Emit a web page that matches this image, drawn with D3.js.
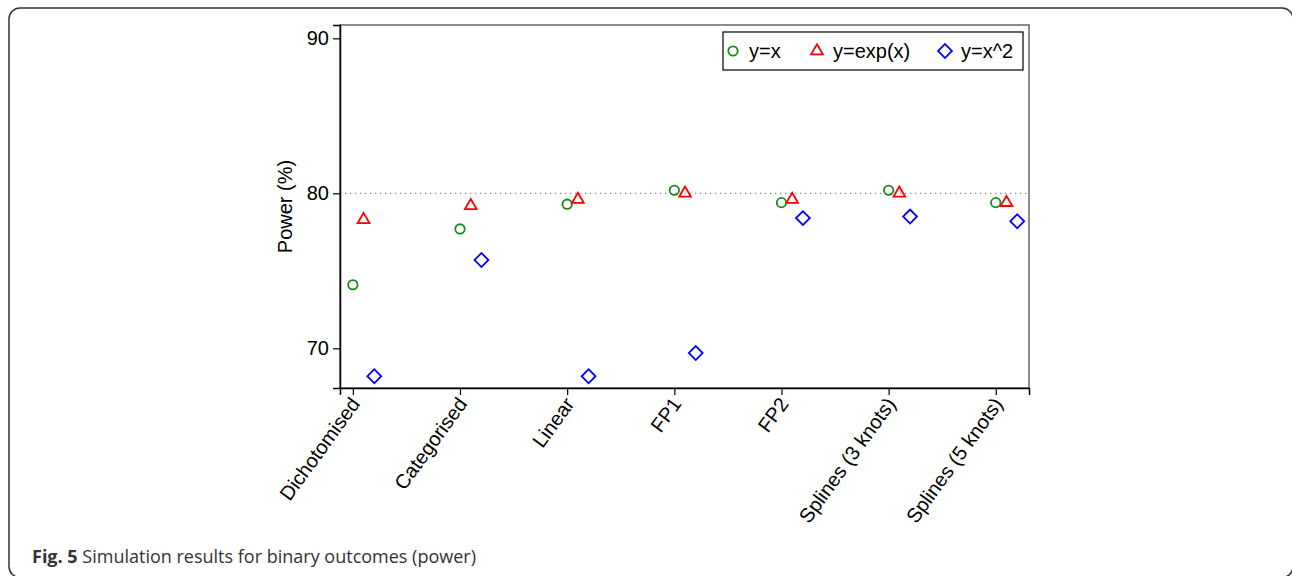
<!DOCTYPE html>
<html>
<head>
<meta charset="utf-8">
<script src="https://cdn.jsdelivr.net/npm/d3@7"></script>
<style>
  body { margin: 0; background: #fff; }
  svg { display: block; }
  .tick-label { font-family: "Liberation Sans", Arial, sans-serif; font-size: 20px; fill: #000; }
  .caption { font-family: "Open Sans", sans-serif; font-size: 18px; fill: #333; }
</style>
</head>
<body>
<svg id="chart" width="1292" height="576"></svg>
<script>
// Methods on the x axis
const methods = ['Dichotomised', 'Categorised', 'Linear', 'FP1', 'FP2', 'Splines (3 knots)', 'Splines (5 knots)'];

// Power (%) per true relationship
const powerLinear = [74.1, 77.7, 79.3, 80.2, 79.4, 80.2, 79.4];
const powerExp = [78.3, 79.2, 79.6, 80.0, 79.6, 80.0, 79.4];
const powerSquare = [68.2, 75.7, 68.2, 69.7, 78.4, 78.5, 78.2];

const yTicks = [70, 80, 90];
const targetPower = 80;

const series = [
    { name: 'y=x', values: powerLinear, shape: 'circle', color: '#178a17', offset: 0 },
    { name: 'y=exp(x)', values: powerExp, shape: 'triangle', color: '#ff0000', offset: 0.1 },
    { name: 'y=x^2', values: powerSquare, shape: 'diamond', color: '#0000ff', offset: 0.2 }
];

const svg = d3.select('#chart');
const plot = { left: 340, right: 1029, top: 25, bottom: 388 };

const x = d3.scaleLinear().domain([0.88, 7.31]).range([plot.left, plot.right]);
const y = d3.scaleLinear().domain([67.44, 90.86]).range([plot.bottom, plot.top]);

// outer rounded frame (right and bottom edges run off the page)
svg.append('rect')
    .attr('x', 9).attr('y', 8)
    .attr('width', 1284).attr('height', 569.5)
    .attr('rx', 11)
    .attr('fill', 'none')
    .attr('stroke', '#333')
    .attr('stroke-width', 1.5);

// plot box
svg.append('rect')
    .attr('x', plot.left).attr('y', plot.top)
    .attr('width', plot.right - plot.left).attr('height', plot.bottom - plot.top)
    .attr('fill', 'none')
    .attr('stroke', '#666')
    .attr('stroke-width', 1.5);

// reference line at 80%
svg.append('line')
    .attr('x1', plot.left).attr('x2', plot.right)
    .attr('y1', y(targetPower)).attr('y2', y(targetPower))
    .attr('stroke', '#888')
    .attr('stroke-width', 1.2)
    .attr('stroke-dasharray', '1.3,3.7');

// y axis
const yAxis = svg.append('g')
    .attr('transform', `translate(${plot.left},0)`)
    .call(d3.axisLeft(y).tickValues(yTicks).tickSize(7).tickPadding(4));
yAxis.select('.domain').attr('stroke', '#000').attr('stroke-width', 1.5);
yAxis.selectAll('.tick line').attr('stroke', '#000').attr('stroke-width', 1.2);
yAxis.selectAll('.tick text').attr('class', 'tick-label').attr('font-size', null).attr('font-family', null);

svg.append('text')
    .attr('class', 'tick-label')
    .attr('transform', `translate(292,${(plot.top + plot.bottom) / 2}) rotate(-90)`)
    .attr('text-anchor', 'middle')
    .text('Power (%)');

// x axis
const xAxis = svg.append('g')
    .attr('transform', `translate(0,${plot.bottom})`)
    .call(d3.axisBottom(x).tickValues(d3.range(1, methods.length + 1)).tickSize(7).tickFormat(''));
xAxis.select('.domain').attr('stroke', '#000').attr('stroke-width', 1.5);
xAxis.selectAll('.tick line').attr('stroke', '#000').attr('stroke-width', 1.2);

svg.append('g')
    .selectAll('text')
    .data(methods)
    .join('text')
    .attr('class', 'tick-label')
    .attr('text-anchor', 'end')
    .attr('transform', (d, i) => `translate(${x(i + 1) + 8},${plot.bottom + 16}) rotate(-54)`)
    .text(d => d);

// markers
function drawMarker(sel, shape, color) {
    if (shape === 'circle') {
        sel.append('circle').attr('r', 4.7);
    } else if (shape === 'triangle') {
        sel.append('path').attr('d', d3.symbol(d3.symbolTriangle, 60)());
    } else {
        sel.append('path').attr('d', d3.symbol(d3.symbolSquare, 96)()).attr('transform', 'rotate(45)');
    }
    sel.selectAll('circle, path')
        .attr('fill', 'none')
        .attr('stroke', color)
        .attr('stroke-width', 1.8);
}

series.forEach(s => {
    svg.append('g')
        .selectAll('g')
        .data(s.values)
        .join('g')
        .attr('transform', (v, i) => `translate(${x(i + 1 + s.offset)},${y(v)})`)
        .each(function () { drawMarker(d3.select(this), s.shape, s.color); });
});

// legend
const legend = svg.append('g');
legend.append('rect')
    .attr('x', 723).attr('y', 32)
    .attr('width', 300).attr('height', 38)
    .attr('fill', '#fff')
    .attr('stroke', '#000')
    .attr('stroke-width', 1.2);

const legendX = [733, 817, 945];
series.forEach((s, i) => {
    const item = legend.append('g').attr('transform', `translate(${legendX[i]},51)`);
    drawMarker(item, s.shape, s.color);
    item.append('text')
        .attr('class', 'tick-label')
        .attr('x', 16)
        .attr('dy', '0.36em')
        .text(s.name);
});

// caption
const caption = svg.append('text')
    .attr('class', 'caption')
    .attr('x', 32)
    .attr('y', 563);
caption.append('tspan').attr('font-weight', 'bold').text('Fig. 5');
caption.append('tspan').text(' Simulation results for binary outcomes (power)');
</script>
</body>
</html>
